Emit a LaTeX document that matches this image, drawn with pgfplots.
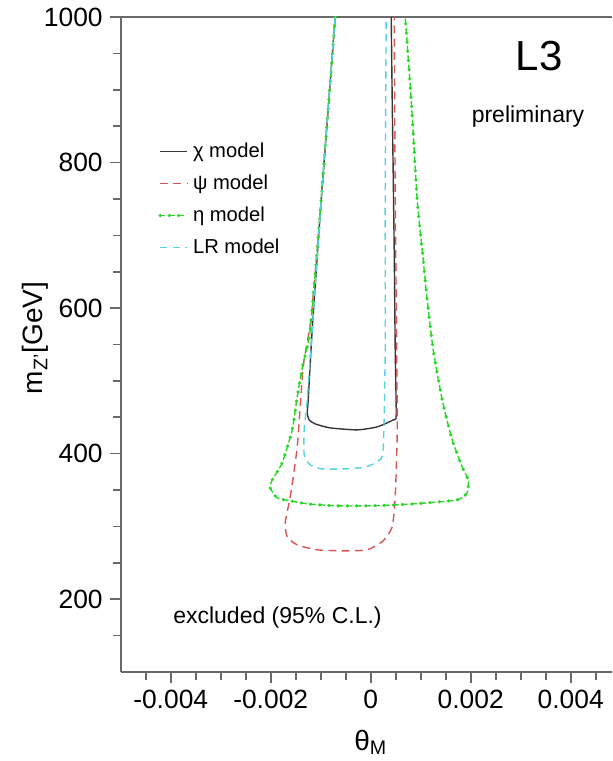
\documentclass[border=0pt]{standalone}
\usepackage{pgfplots}
\pgfplotsset{compat=1.18}
\usepackage{fontspec}
\setmainfont{Liberation Sans}

\definecolor{axisgray}{RGB}{105,105,105}
\definecolor{chiblack}{RGB}{55,55,55}
\definecolor{psired}{RGB}{215,85,85}
\definecolor{etagreen}{RGB}{40,215,40}
\definecolor{lrcyan}{RGB}{85,210,225}

\begin{document}
\begin{tikzpicture}
\begin{axis}[
  name=ax,
  scale only axis,
  width=245.65pt, height=327.5pt,
  xmin=-0.005, xmax=0.004826,
  ymin=100, ymax=1000,
  axis y line*=left,
  axis line style={draw=axisgray, line width=0.8pt},
  tick style={draw=axisgray, line width=0.8pt},
  tick align=outside,
  xtick pos=bottom, ytick pos=left,
  major tick length=5.5pt, minor tick length=3.8pt,
  scaled x ticks=false,
  xtick={-0.004,-0.002,0,0.002,0.004},
  xticklabels={-0.004,-0.002,0,0.002,0.004},
  minor xtick={-0.0045,-0.0035,-0.003,-0.0025,-0.0015,-0.001,-0.0005,0.0005,0.001,0.0015,0.0025,0.003,0.0035,0.0045},
  ytick={200,400,600,800,1000},
  yticklabels={200,400,600,800,1000},
  minor ytick={150,250,300,350,450,500,550,650,700,750,850,900,950},
  ticklabel style={font=\fontsize{13.2}{15}\selectfont},
  xlabel={θ\textsubscript{M}},
  ylabel={m\textsubscript{Z'}[GeV]},
  label style={font=\fontsize{14}{16}\selectfont},
  xlabel style={at={(axis description cs:0.509,-0.107)}, anchor=center},
  ylabel style={at={(axis description cs:-0.173,0.51)}, anchor=center},
  legend style={at={(axis description cs:0.076,0.815)}, anchor=north west,
    draw=none, fill=none, font=\fontsize{10.1}{12}\selectfont,
    row sep=3.2pt, inner sep=0pt},
  legend cell align=left,
  legend image code/.code={\draw[#1] (0pt,0pt) -- (13.5pt,0pt);},
]

% chi model
\addplot[chiblack, line width=0.7pt, smooth, tension=0.35] coordinates {
(-0.00071,1000) (-0.00099,748.6) (-0.00117,570.1) (-0.00125,473.9)
(-0.00127,456.0) (-0.00123,446.4) (-0.00111,440.9) (-0.00081,435.4)
(-0.00027,432.7) (0.00013,436.8) (0.00045,446.4) (0.00051,453.3)
(0.00049,542.6) (0.00047,680.0) (0.00043,886.0) (0.00041,1000)
};
\addlegendentry{χ model}

% psi model
\addplot[psired, line width=0.7pt, dash pattern=on 4pt off 2.6pt, smooth, tension=0.35] coordinates {
(-0.00071,1000) (-0.00099,748.6) (-0.00119,587.9) (-0.00135,519.2)
(-0.00147,409.3) (-0.00161,340.7) (-0.00171,304.9) (-0.00167,285.7)
(-0.00147,274.7) (-0.00107,267.9) (-0.00055,266.5) (-0.00007,267.9)
(0.00025,280.2) (0.00043,299.5) (0.00049,340.7) (0.00053,432.7)
(0.00051,611.3) (0.00049,748.6) (0.00047,1000)
};
\addlegendentry{ψ model}

% eta model: dashed line with a round dot every 4.6pt
\addplot[etagreen, line width=0.7pt, dash pattern=on 2.6pt off 2pt, smooth, tension=0.35,
  postaction={draw=etagreen, line width=1.8pt, line cap=round, dash pattern=on 0pt off 4.6pt}] coordinates {
(-0.00071,1000) (-0.00099,748.6) (-0.00121,570.1) (-0.00135,524.7)
(-0.00147,478.0) (-0.00157,432.7) (-0.00177,387.4) (-0.00197,364.0)
(-0.00201,353.0) (-0.00187,339.3) (-0.00161,335.2) (-0.00127,331.1)
(-0.00067,328.3) (-0.00007,328.3) (0.00053,329.7) (0.00113,332.4)
(0.00173,336.5) (0.00193,346.2) (0.00195,364.0) (0.00183,381.9)
(0.00163,418.9) (0.00143,473.9) (0.00125,542.6) (0.00113,611.3)
(0.00103,680.0) (0.00093,748.6) (0.00081,886.0) (0.00069,1000)
};
\addlegendentry{η model}

% LR model
\addplot[lrcyan, line width=0.7pt, dash pattern=on 3.6pt off 2.6pt, smooth, tension=0.35] coordinates {
(-0.00071,1000) (-0.00099,748.6) (-0.00117,570.1) (-0.00127,473.9)
(-0.00133,432.7) (-0.00133,398.4) (-0.00121,384.6) (-0.00097,379.1)
(-0.00051,379.1) (-0.00009,381.9) (0.00015,390.1) (0.00025,405.2)
(0.00029,542.6) (0.00029,748.6) (0.00031,1000)
};
\addlegendentry{LR model}

\node[font=\fontsize{21}{24}\selectfont] at (axis cs:0.003366,946.4) {L3};
\node[font=\fontsize{11.5}{13}\selectfont] at (axis cs:0.003146,862.6) {preliminary};
\node[font=\fontsize{11.5}{13}\selectfont] at (axis cs:-0.001864,174.4) {excluded (95\% C.L.)};
\end{axis}
\pgfresetboundingbox
\path[use as bounding box] ([xshift=-60.35pt,yshift=-44.5pt]ax.south west) rectangle ([yshift=8.5pt]ax.north east);
\end{tikzpicture}
\end{document}
